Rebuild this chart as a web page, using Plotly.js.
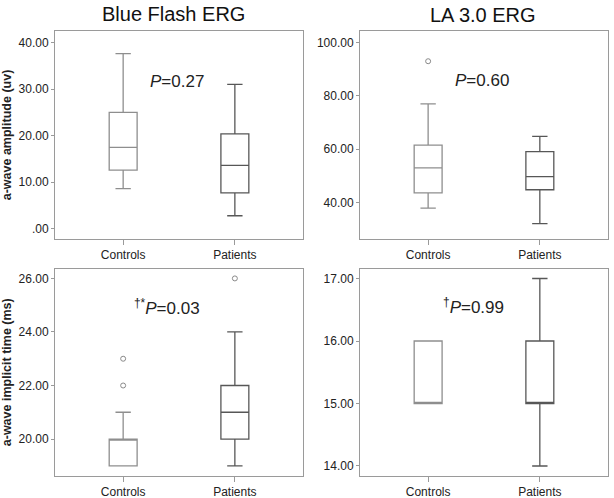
<!DOCTYPE html>
<html>
<head>
<meta charset="utf-8">
<script src="https://cdn.plot.ly/plotly-3.0.1.min.js"></script>
<style>
  html, body { margin: 0; padding: 0; background: #fff; }
  #chart { width: 614px; height: 498px; }
</style>
</head>
<body>
<div id="chart"></div>
<script>
document.addEventListener("DOMContentLoaded", function (event) {

    var grupos = ['Controls', 'Patients'];

    // Blue Flash ERG - a-wave amplitude (uv)
    var blueAmp = {
      lower: [8.6, 2.8],
      q1: [12.6, 7.7],
      median: [17.5, 13.6],
      q3: [25.0, 20.4],
      upper: [37.6, 31.0]
    };
    var blueAmpOut = { x: [], y: [] };

    // LA 3.0 ERG - a-wave amplitude (uv)
    var laAmp = {
      lower: [37.9, 32.1],
      q1: [43.6, 44.8],
      median: [53.0, 49.7],
      q3: [61.5, 59.1],
      upper: [77.0, 64.8]
    };
    var laAmpOut = { x: ['Controls'], y: [93.0] };

    // Blue Flash ERG - a-wave implicit time (ms)
    var blueTime = {
      lower: [19, 19],
      q1: [19, 20],
      median: [20, 21],
      q3: [20, 22],
      upper: [21, 24]
    };
    var blueTimeOut = { x: ['Controls', 'Controls', 'Patients'], y: [23, 22, 26] };

    // LA 3.0 ERG - a-wave implicit time (ms)
    var laTime = {
      lower: [15, 14],
      q1: [15, 15],
      median: [15, 15],
      q3: [16, 16],
      upper: [16, 17]
    };
    var laTimeOut = { x: [], y: [] };

    var ticksAmpBlue = [0, 10, 20, 30, 40];
    var ticksAmpBlueTxt = ['.00', '10.00', '20.00', '30.00', '40.00'];
    var ticksAmpLa = [40, 60, 80, 100];
    var ticksAmpLaTxt = ['40.00', '60.00', '80.00', '100.00'];
    var ticksTimeBlue = [20, 22, 24, 26];
    var ticksTimeBlueTxt = ['20.00', '22.00', '24.00', '26.00'];
    var ticksTimeLa = [14, 15, 16, 17];
    var ticksTimeLaTxt = ['14.00', '15.00', '16.00', '17.00'];

    var colores = {
      Controls: '#8e8e8e',
      Patients: '#575757'
    };

    function cajas(st, xa, ya) {
      return grupos.map(function (g, i) {
        return {
          type: 'box',
          name: g,
          x: [g],
          q1: [st.q1[i]],
          median: [st.median[i]],
          q3: [st.q3[i]],
          lowerfence: [st.lower[i]],
          upperfence: [st.upper[i]],
          width: 0.25,
          whiskerwidth: 0.55,
          fillcolor: '#ffffff',
          line: { color: colores[g], width: 1.3 },
          boxpoints: false,
          hoverinfo: 'skip',
          xaxis: xa,
          yaxis: ya,
          showlegend: false
        };
      });
    }

    function atipicos(o, xa, ya) {
      return {
        type: 'scatter',
        mode: 'markers',
        x: o.x,
        y: o.y,
        marker: { symbol: 'circle-open', size: 5, color: '#8a8a8a', line: { width: 1 } },
        xaxis: xa,
        yaxis: ya,
        showlegend: false,
        hoverinfo: 'skip'
      };
    }

    var data = []
      .concat(cajas(blueAmp, 'x', 'y'), [atipicos(blueAmpOut, 'x', 'y')])
      .concat(cajas(laAmp, 'x2', 'y2'), [atipicos(laAmpOut, 'x2', 'y2')])
      .concat(cajas(blueTime, 'x3', 'y3'), [atipicos(blueTimeOut, 'x3', 'y3')])
      .concat(cajas(laTime, 'x4', 'y4'), [atipicos(laTimeOut, 'x4', 'y4')]);

    var fuente = { family: '"Liberation Sans", Arial, sans-serif', size: 12, color: '#222' };

    function ejeX(dom, anchor) {
      return {
        domain: dom,
        anchor: anchor,
        type: 'category',
        categoryorder: 'array',
        categoryarray: grupos,
        range: [-0.61, 1.61],
        showline: true,
        mirror: true,
        linecolor: '#9a9a9a',
        linewidth: 1,
        ticks: 'outside',
        ticklen: 5,
        tickcolor: '#9a9a9a',
        showgrid: false,
        zeroline: false,
        fixedrange: true,
        tickfont: fuente
      };
    }

    function ejeY(dom, anchor, rango, vals, txt, titulo) {
      var eje = {
        domain: dom,
        anchor: anchor,
        range: rango,
        tickvals: vals,
        ticktext: txt,
        showline: true,
        mirror: true,
        linecolor: '#9a9a9a',
        linewidth: 1,
        ticks: 'outside',
        ticklen: 3,
        tickcolor: '#9a9a9a',
        showgrid: false,
        zeroline: false,
        fixedrange: true,
        tickfont: fuente
      };
      if (titulo) {
        eje.title = { text: titulo, font: { family: '"Liberation Sans", Arial, sans-serif', size: 12.5, color: '#222', weight: 'bold' }, standoff: 4 };
      }
      return eje;
    }

    var colIzq = [0.0896, 0.4935];
    var colDer = [0.5863, 0.9902];
    var filaSup = [0.521, 0.937];
    var filaInf = [0.0442, 0.4608];

    var pFont = { family: '"Liberation Sans", Arial, sans-serif', size: 17, color: '#222' };
    var tFont = { family: '"Liberation Sans", Arial, sans-serif', size: 20, color: '#111' };

    var layout = {
      width: 614,
      height: 498,
      margin: { l: 0, r: 0, t: 0, b: 0 },
      paper_bgcolor: '#ffffff',
      plot_bgcolor: '#ffffff',
      showlegend: false,
      font: fuente,
      xaxis: ejeX(colIzq, 'y'),
      yaxis: ejeY(filaSup, 'x', [-2.1, 42.4], ticksAmpBlue, ticksAmpBlueTxt, 'a-wave amplitude (uv)'),
      xaxis2: ejeX(colDer, 'y2'),
      yaxis2: ejeY(filaSup, 'x2', [26.5, 104.2], ticksAmpLa, ticksAmpLaTxt, null),
      xaxis3: ejeX(colIzq, 'y3'),
      yaxis3: ejeY(filaInf, 'x3', [18.62, 26.37], ticksTimeBlue, ticksTimeBlueTxt, 'a-wave implicit time (ms)'),
      xaxis4: ejeX(colDer, 'y4'),
      yaxis4: ejeY(filaInf, 'x4', [13.84, 17.16], ticksTimeLa, ticksTimeLaTxt, null),
      annotations: [
        { text: 'Blue Flash ERG', xref: 'paper', yref: 'paper', x: 0.283, y: 0.972, xanchor: 'center', yanchor: 'middle', showarrow: false, font: tFont },
        { text: 'LA 3.0 ERG', xref: 'paper', yref: 'paper', x: 0.786, y: 0.970, xanchor: 'center', yanchor: 'middle', showarrow: false, font: tFont },
        { text: '<i>P</i>=0.27', xref: 'x domain', yref: 'y domain', x: 0.49, y: 0.756, xanchor: 'center', yanchor: 'middle', showarrow: false, font: pFont },
        { text: '<i>P</i>=0.60', xref: 'x2 domain', yref: 'y2 domain', x: 0.494, y: 0.765, xanchor: 'center', yanchor: 'middle', showarrow: false, font: pFont },
        { text: '<sup>†*</sup><i>P</i>=0.03', xref: 'x3 domain', yref: 'y3 domain', x: 0.453, y: 0.816, xanchor: 'center', yanchor: 'middle', showarrow: false, font: pFont },
        { text: '<sup>†</sup><i>P</i>=0.99', xref: 'x4 domain', yref: 'y4 domain', x: 0.457, y: 0.819, xanchor: 'center', yanchor: 'middle', showarrow: false, font: pFont }
      ]
    };

    Plotly.newPlot('chart', data, layout, { displayModeBar: false, staticPlot: true });

});
</script>
</body>
</html>
